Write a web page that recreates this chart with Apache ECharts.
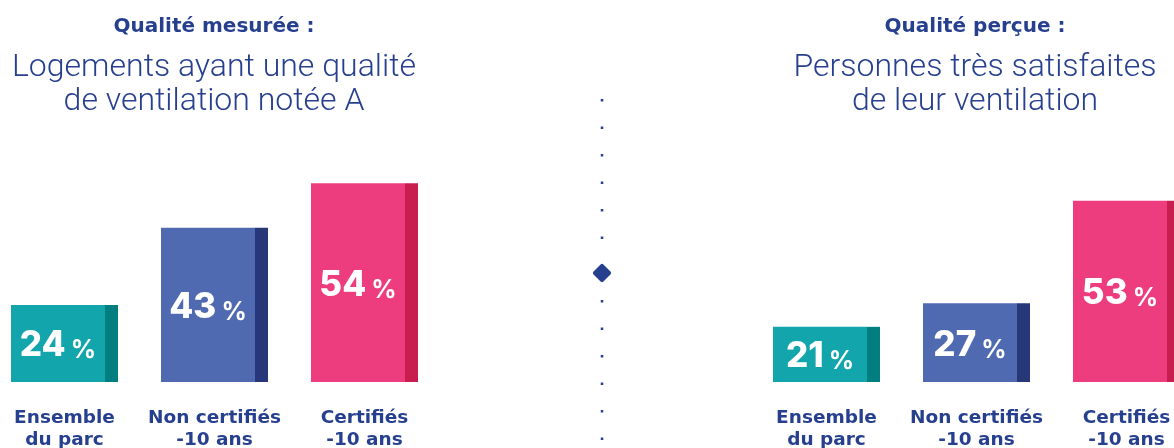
<!DOCTYPE html>
<html><head><meta charset="utf-8">
<script src="https://cdn.jsdelivr.net/npm/echarts@6/dist/echarts.min.js"></script>
<style>html,body{margin:0;padding:0;background:#fff}#c{width:1174px;height:448px}</style>
</head><body><div id="c"></div>
<script>
// ---- data ----
const categories = ['Ensemble\ndu parc', 'Non certifiés\n-10 ans', 'Certifiés\n-10 ans'];
const measuredValues = [24, 43, 54];
const perceivedValues = [21, 27, 53];
const measuredTitle = 'Qualité mesurée :';
const measuredSubtitle = ['Logements ayant une qualité', 'de ventilation notée A'];
const perceivedTitle = 'Qualité perçue :';
const perceivedSubtitle = ['Personnes très satisfaites', 'de leur ventilation'];

// ---- styles ----
const mainColors = ['#12A5AB', '#4F6AB1', '#EE3D7F'];
const sideColors = ['#017F80', '#283777', '#C71D4F'];
const ink = '#263F8E';
const numFont = 'Inter';
const boldFont = '"DejaVu Sans"';
const lightFont = 'Roboto';

const chart = echarts.init(document.getElementById('c'), null, {renderer: 'canvas'});

function barSeries(values, idx) {
  return [
    {
      type: 'bar', xAxisIndex: idx, yAxisIndex: idx, data: values,
      barWidth: 94, barGap: '0%', silent: true,
      itemStyle: {color: p => mainColors[p.dataIndex]},
      label: {
        show: true, position: 'inside', color: '#fff', fontFamily: numFont, fontSize: 18,
        formatter: p => `{n|${p.value}} {p|%}`,
        rich: {
          n: {fontSize: 35, fontWeight: 800, fontFamily: numFont, color: '#fff', verticalAlign: 'bottom', lineHeight: 40},
          p: {fontSize: 25, fontWeight: 700, fontFamily: numFont, color: '#fff', verticalAlign: 'bottom', lineHeight: 36}
        }
      }
    },
    {
      type: 'bar', xAxisIndex: idx, yAxisIndex: idx, data: values,
      barWidth: 13, barGap: '0%', silent: true,
      itemStyle: {color: p => sideColors[p.dataIndex]}
    }
  ];
}

function xAxis(idx) {
  return {
    type: 'category', gridIndex: idx, data: categories,
    axisLine: {show: false}, axisTick: {show: false},
    axisLabel: {
      interval: 0, margin: 25, color: ink, fontFamily: boldFont, fontWeight: 'bold',
      fontSize: 18.5, lineHeight: 22
    }
  };
}

function titleTexts(cx, title, sub) {
  return [
    {type: 'text', x: cx, y: 27, style: {text: title, fill: ink, font: `bold 20px ${boldFont}`, align: 'center', verticalAlign: 'middle'}},
    {type: 'text', x: cx, y: 68, style: {text: sub[0], fill: ink, font: `300 32px ${lightFont}`, align: 'center', verticalAlign: 'middle'}},
    {type: 'text', x: cx, y: 101.5, style: {text: sub[1], fill: ink, font: `300 32px ${lightFont}`, align: 'center', verticalAlign: 'middle'}}
  ];
}

chart.setOption({
  animation: false,
  backgroundColor: '#ffffff',
  grid: [
    {left: -10.5, width: 450, top: 171, bottom: 66, containLabel: false, outerBoundsMode: 'none'},
    {left: 751.5, width: 450, top: 185, bottom: 66, containLabel: false, outerBoundsMode: 'none'}
  ],
  xAxis: [xAxis(0), xAxis(1)],
  yAxis: [
    {type: 'value', gridIndex: 0, min: 5, max: 57, show: false, splitLine: {show: false}},
    {type: 'value', gridIndex: 1, min: 7, max: 57, show: false, splitLine: {show: false}}
  ],
  series: [...barSeries(measuredValues, 0), ...barSeries(perceivedValues, 1)],
  graphic: [
    ...titleTexts(214, measuredTitle, measuredSubtitle),
    ...titleTexts(975, perceivedTitle, perceivedSubtitle),
    {type: 'line', shape: {x1: 602, y1: 99, x2: 602, y2: 240}, style: {stroke: ink, lineWidth: 2.5, lineDash: [2.5, 25]}, silent: true},
    {type: 'line', shape: {x1: 602, y1: 300, x2: 602, y2: 445}, style: {stroke: ink, lineWidth: 2.5, lineDash: [2.5, 25]}, silent: true},
    {type: 'rect', x: 602, y: 273, rotation: Math.PI / 4, shape: {x: -7, y: -7, width: 14, height: 14, r: 2}, style: {fill: ink}, silent: true}
  ]
});
</script>
</body></html>
